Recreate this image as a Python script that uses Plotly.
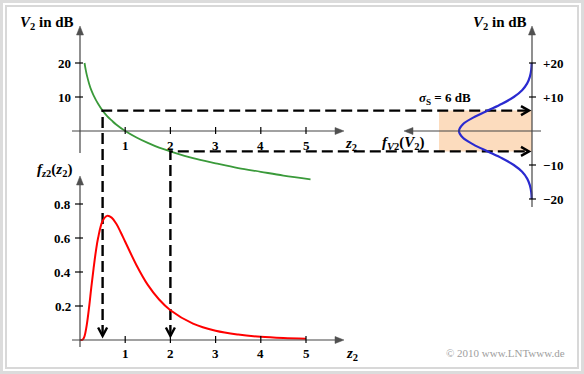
import plotly.graph_objects as go

W, H = 584, 374

# ---------------- data ----------------
# green curve: V2 in dB versus z2 (top-left diagram)
z_green = [0.1, 0.125, 0.15, 0.2, 0.25, 0.3, 0.4, 0.5, 0.6, 0.7, 0.8, 1.0, 1.25,
           1.5, 1.75, 2.0, 2.5, 3.0, 3.5, 4.0, 4.5, 5.1]
v_green = [20, 18.1, 16.5, 14.0, 12.0, 10.5, 8.0, 6.0, 4.4, 3.1, 1.9, 0.0, -1.9,
           -3.5, -4.9, -6.0, -8.0, -9.5, -10.9, -12.0, -13.1, -14.2]

# red curve: density f_z2(z2) (bottom diagram)
z_red = [0.0, 0.04, 0.07, 0.1, 0.15, 0.2, 0.25, 0.3, 0.35, 0.4, 0.5, 0.6, 0.7, 0.8,
         0.9, 1.0, 1.25, 1.5, 1.75, 2.0, 2.5, 3.0, 3.5, 4.0, 4.5, 5.0]
f_red = [0.0, 0.0, 0.005, 0.022, 0.089, 0.19, 0.31, 0.42, 0.52, 0.60, 0.70, 0.73,
         0.72, 0.685, 0.634, 0.578, 0.44, 0.324, 0.238, 0.175, 0.096, 0.054, 0.032,
         0.019, 0.012, 0.008]

# blue curve: Gaussian density f_V2(V2) (right diagram), sigma = 6 dB
v_blue = [-20, -18, -16, -14, -12, -10, -8, -6, -4, -2, 0, 2, 4, 6, 8, 10, 12, 14, 16, 18, 20]
f_blue = [0.0003, 0.0007, 0.0019, 0.0044, 0.009, 0.0166, 0.0273, 0.0403, 0.0532, 0.0629,
          0.0665, 0.0629, 0.0532, 0.0403, 0.0273, 0.0166, 0.009, 0.0044, 0.0019, 0.0007, 0.0003]

# ticks
top_x_ticks = [1, 2, 3, 4, 5]
top_y_ticks = [10, 20]
bot_x_ticks = [1, 2, 3, 4, 5]
bot_y_ticks = [0.2, 0.4, 0.6, 0.8]
right_ticks = [20, 10, -10, -20]
right_tick_labels = ["+20", "+10", "\u221210", "\u221220"]

sigma_db = 6
z_marks = [0.5, 2.0]   # z2 values belonging to +6 dB and -6 dB

# ---------------- pixel geometry of the scales ----------------
ZX0, ZPX = 80, 45.2      # z2 = 0 at x=80 px, 45.2 px per unit
VY0, VPX = 131, 3.4      # V2 = 0 dB at y=131 px, 3.4 px per dB
FY0, FPX = 340, 170      # f = 0 at y=340 px, 170 px per unit
GX0, GPX = 532, 1098     # f_V = 0 at x=532 px, 1098 px per unit (towards left)

def zx(px): return (px - ZX0) / ZPX
def vy(py): return (VY0 - py) / VPX
def fy(py): return (FY0 - py) / FPX
def gx(px): return (GX0 - px) / GPX
def f_to_v(f): return vy(FY0 - f * FPX)

fig = go.Figure()

green = "#3a9a3a"
red = "#ff0000"
blue = "#2a2ad0"
axc = "#454545"

fig.add_trace(go.Scatter(x=z_green, y=v_green, mode="lines", xaxis="x", yaxis="y",
                         line=dict(color=green, width=1.8, shape="spline"), hoverinfo="skip"))
fig.add_trace(go.Scatter(x=z_red, y=f_red, mode="lines", xaxis="x", yaxis="y2",
                         line=dict(color=red, width=2, shape="spline"), hoverinfo="skip"))
fig.add_trace(go.Scatter(x=f_blue, y=v_blue, mode="lines", xaxis="x3", yaxis="y",
                         line=dict(color=blue, width=2.2, shape="spline"), hoverinfo="skip"))

# dashed L-shaped guides
f_tip = fy(336)
for zm, vm in zip(z_marks, [sigma_db, -sigma_db]):
    fig.add_trace(go.Scatter(x=[zm, zm, zx(528)], y=[f_to_v(f_tip), vm, vm], mode="lines",
                             xaxis="x", yaxis="y",
                             line=dict(color="black", width=2.4, dash="11px,5px"),
                             hoverinfo="skip"))

shapes = []

# orange band +-sigma in the right diagram
shapes.append(dict(type="rect", xref="x3", yref="y", x0=0, x1=gx(439), y0=-sigma_db, y1=sigma_db,
                   fillcolor="#fcdcbe", line=dict(width=0), layer="below"))

def line(xref, yref, x0, y0, x1, y1, color=axc, width=1.2):
    shapes.append(dict(type="line", xref=xref, yref=yref, x0=x0, y0=y0, x1=x1, y1=y1,
                       line=dict(color=color, width=width)))

def tri(xref, yref, pts, color="#505050"):
    p = "M " + " L ".join(f"{a},{b}" for a, b in pts) + " Z"
    shapes.append(dict(type="path", xref=xref, yref=yref, path=p, fillcolor=color,
                       line=dict(color=color, width=0.5)))

def chev(xref, yref, pts, color="black"):
    p = "M " + " L ".join(f"{a},{b}" for a, b in pts)
    shapes.append(dict(type="path", xref=xref, yref=yref, path=p,
                       line=dict(color=color, width=2.4)))

# --- top-left axes
line("x", "y", zx(72), 0, zx(336), 0)
tri("x", "y", [(zx(344), 0), (zx(335), 3.5 / VPX), (zx(335), -3.5 / VPX)])
line("x", "y", 0, vy(153), 0, vy(34))
tri("x", "y", [(0, vy(26)), (3.5 / ZPX, vy(35)), (-3.5 / ZPX, vy(35))])
for t in top_x_ticks:
    line("x", "y", t, 4 / VPX, t, -3 / VPX, color="black", width=1.2)
for t in top_y_ticks:
    line("x", "y", -5 / ZPX, t, 3 / ZPX, t, color="black", width=1.2)

# --- bottom axes
line("x", "y2", zx(72), 0, zx(336), 0)
tri("x", "y2", [(zx(344), 0), (zx(335), 3.5 / FPX), (zx(335), -3.5 / FPX)])
line("x", "y2", 0, fy(347), 0, fy(184))
tri("x", "y2", [(0, fy(176)), (3.5 / ZPX, fy(185)), (-3.5 / ZPX, fy(185))])
for t in bot_x_ticks:
    line("x", "y2", t, 4 / FPX, t, -3 / FPX, color="black", width=1.2)
for t in bot_y_ticks:
    line("x", "y2", -5 / ZPX, t, 3 / ZPX, t, color="black", width=1.2)

# --- right axes
line("x3", "y", 0, vy(207), 0, vy(34))
tri("x3", "y", [(0, vy(26)), (-3.5 / GPX, vy(35)), (3.5 / GPX, vy(35))])
line("x3", "y", gx(541), 0, gx(413), 0)
tri("x3", "y", [(gx(404), 0), (gx(413), 3.5 / VPX), (gx(413), -3.5 / VPX)])
for t in right_ticks:
    line("x3", "y", 3 / GPX, t, -4 / GPX, t, color="black", width=1.2)

# arrow heads of the dashed guides
for zm in z_marks:
    chev("x", "y2", [(zm - 4.5 / ZPX, f_tip + 8.5 / FPX), (zm, f_tip), (zm + 4.5 / ZPX, f_tip + 8.5 / FPX)])
for vm in [sigma_db, -sigma_db]:
    chev("x", "y", [(zx(521), vm + 4.5 / VPX), (zx(529), vm), (zx(521), vm - 4.5 / VPX)])

# frame
shapes.append(dict(type="rect", xref="paper", yref="paper", x0=1.5 / W, x1=1 - 1.5 / W,
                   y0=1.5 / H, y1=1 - 1.5 / H, line=dict(color="#dcdcdc", width=3)))
shapes.append(dict(type="rect", xref="paper", yref="paper", x0=6 / W, x1=1 - 6 / W,
                   y0=6 / H, y1=1 - 6 / H, line=dict(color="#d8d8d8", width=2)))

ann = []
SER = "Liberation Serif"

def txt(x, y, s, size=13, xanchor="center", yanchor="middle", xref="x", yref="y",
        xshift=0, yshift=0, color="black"):
    ann.append(dict(x=x, y=y, xref=xref, yref=yref, text=s, showarrow=False,
                    xanchor=xanchor, yanchor=yanchor, xshift=xshift, yshift=yshift,
                    font=dict(family=SER, size=size, color=color)))

for t in top_x_ticks:
    txt(t, 0, f"<b>{t}</b>", yshift=-14)
for t in top_y_ticks:
    txt(0, t, f"<b>{t}</b>", xanchor="right", xshift=-7)
for t in bot_x_ticks:
    txt(t, 0, f"<b>{t}</b>", yref="y2", yshift=-13)
for t in bot_y_ticks:
    txt(0, t, f"<b>{t:.1f}</b>", yref="y2", xanchor="right", xshift=-7)
for t, lab in zip(right_ticks, right_tick_labels):
    txt(0, t, f"<b>{lab}</b>", xref="x3", xanchor="left", xshift=9)

def ptxt(px, py, s, size=15, xanchor="center", color="black"):
    txt(px / W, 1 - py / H, s, size=size, xanchor=xanchor, xref="paper", yref="paper", color=color)

ptxt(47, 23, "<b><i>V</i><sub>2</sub> in dB</b>")
ptxt(500, 23, "<b><i>V</i><sub>2</sub> in dB</b>")
ptxt(351, 144, "<b><i>z</i><sub>2</sub></b>")
ptxt(352, 354, "<b><i>z</i><sub>2</sub></b>")
ptxt(54, 170, "<b><i>f<sub>z</sub></i><sub>2</sub>(<i>z</i><sub>2</sub>)</b>")
ptxt(445, 99, "<b><i>σ</i><sub>S</sub> = 6 dB</b>", size=13)
ptxt(403, 143, "<b><i>f<sub>V</sub></i><sub>2</sub>(<i>V</i><sub>2</sub>)</b>")
ptxt(505, 353, "© 2010 www.LNTwww.de", size=11, color="#a0a0a0")

ax_common = dict(visible=False, fixedrange=True, domain=[0, 1])
fig.update_layout(
    width=W, height=H, margin=dict(l=0, r=0, t=0, b=0),
    paper_bgcolor="white", plot_bgcolor="white", showlegend=False,
    xaxis=dict(range=[zx(0), zx(W)], **ax_common),
    yaxis=dict(range=[vy(H), vy(0)], **ax_common),
    yaxis2=dict(range=[fy(H), fy(0)], overlaying="y", anchor="x", **ax_common),
    xaxis3=dict(range=[gx(0), gx(W)], overlaying="x", anchor="y", **ax_common),
    shapes=shapes, annotations=ann,
)

fig.write_html("out.html")
